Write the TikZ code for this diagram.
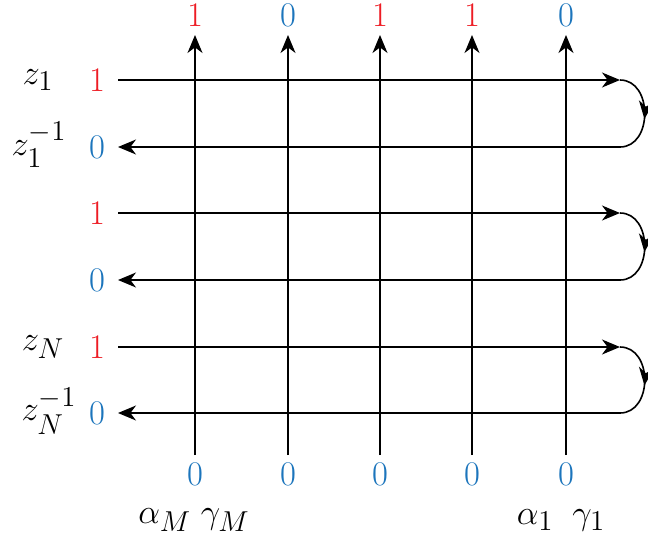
\documentclass[tikz,border=0pt]{standalone}
\usepackage{amsmath,amssymb}
\usepackage{tikz}
\usepackage{xcolor}
\usetikzlibrary{arrows.meta,positioning,calc,decorations.markings}
\definecolor{cR}{HTML}{ED1C24}
\definecolor{cB}{HTML}{1C75BC}
\tikzset{
  lbl/.style={inner sep=0pt,font=\fontsize{19}{22}\selectfont},
  one/.style={lbl,text=cR},
  zero/.style={lbl,text=cB},
  wire/.style={line width=0.8pt,-{Stealth[length=9pt,width=7.5pt,inset=2.8pt]}},
  turn/.style={line width=0.8pt,decoration={markings,
     mark=at position 0.56 with {\arrow{Stealth[length=9pt,width=7.5pt,inset=2.8pt]}}},
     postaction={decorate}},
}

\begin{document}
\begin{tikzpicture}[x=0.5pt,y=-0.5pt]
  \useasboundingbox (0,0) rectangle (648,542);
  % vertical lines, bottom 0 and top output
  \foreach \x/\st/\t [count=\i] in {195/one/1,288/zero/0,380/one/1,472/one/1,566/zero/0}{
    \node[zero] (b\i) at (\x,474){$0$};
    \node[\st] (t\i) at (\x,15){$\t$};
    \coordinate (bs\i) at (\x,455);
    \coordinate (te\i) at (\x,35);
    \draw[wire] (bs\i) -- (te\i);
  }
  % horizontal lines, pairs joined on the right
  \foreach \ya/\yb [count=\k] in {80/147,213/280,347/413}{
    \node[one] (la\k) at (97,\ya){$1$};
    \node[zero] (lb\k) at (97,\yb){$0$};
    \coordinate (sa\k) at (118,\ya);
    \coordinate (ea\k) at (620,\ya);
    \coordinate (sb\k) at (620,\yb);
    \coordinate (eb\k) at (118,\yb);
    \draw[wire] (sa\k) -- (ea\k);
    \draw[turn] (ea\k) .. controls +(33,0) and +(33,0) .. (sb\k);
    \draw[wire] (sb\k) -- (eb\k);
  }
  % row labels
  \node[lbl] (z1) at (38,80){$z_1$};
  \node[lbl] (z1i) at (39,145){$z_1^{-1}$};
  \node[lbl] (zN) at (43,347){$z_N$};
  \node[lbl] (zNi) at (49,411){$z_N^{-1}$};
  % column labels
  \node[lbl] (aM) at (194,520){$\alpha_M\;\gamma_M$};
  \node[lbl] (a1) at (561,520){$\alpha_1\enspace\gamma_1$};
\end{tikzpicture}
\end{document}
